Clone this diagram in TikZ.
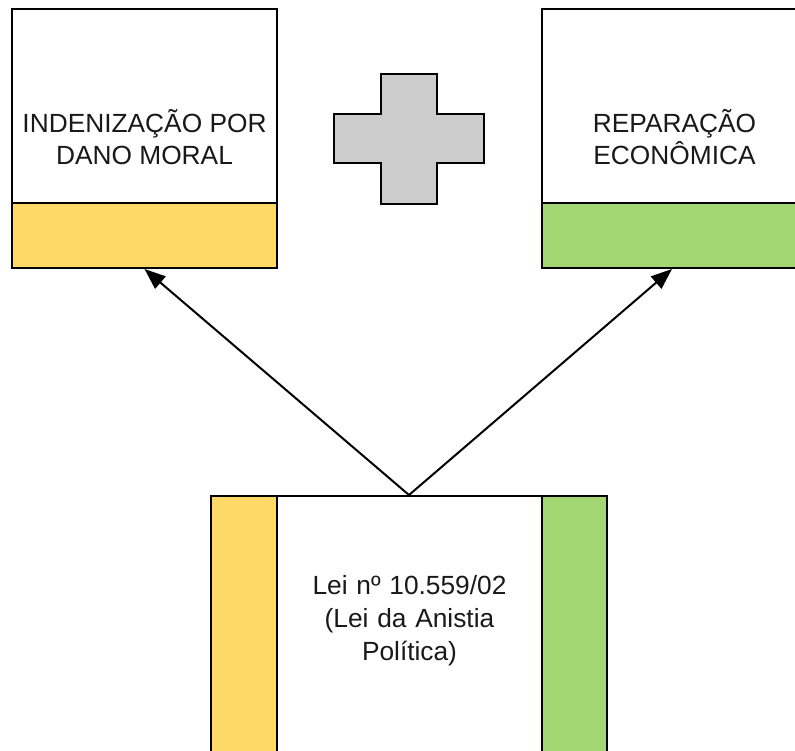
\documentclass[tikz,border=0pt]{standalone}
\usepackage{fontspec}
\setmainfont{Liberation Sans}
\usetikzlibrary{arrows.meta}
\definecolor{lawyellow}{HTML}{FFD966}
\definecolor{lawgreen}{HTML}{A3D774}
\definecolor{crossgray}{HTML}{CCCCCC}
\tikzset{
  outline/.style={draw=black, line width=2pt},
  panel/.style={outline, rectangle, inner sep=0pt},
  label text/.style={font=\fontsize{26.3}{32}\selectfont, align=center, text=black!90},
  link/.style={draw=black, line width=2pt, -{Triangle[length=21pt, width=16pt]}}
}
\begin{document}
\begin{tikzpicture}[x=1pt, y=-1pt]
  \useasboundingbox (0,0) rectangle (795,751);
  \clip (0,0) rectangle (795,751);
  \fill[white] (0,0) rectangle (795,751);

  % colour bands under the outlines
  \fill[lawyellow] (12,203) rectangle (277,268);
  \fill[lawgreen] (542,203) rectangle (807,268);
  \fill[lawyellow] (211,495) rectangle (277,780);
  \fill[lawgreen] (542,495) rectangle (607,780);

  % upper boxes
  \node[panel, minimum width=265pt, minimum height=259pt] (moral) at (144.5,138.5) {};
  \node[panel, minimum width=265pt, minimum height=259pt] (repar) at (674.5,138.5) {};
  \draw[outline] (12,203) -- (277,203);
  \draw[outline] (542,203) -- (807,203);
  \node[label text] (moraltxt) at (144.5,137) {INDENIZAÇÃO POR\\DANO MORAL};
  \node[label text] (repartxt) at (674.5,137) {REPARAÇÃO\\ECONÔMICA};

  % plus sign between the upper boxes
  \draw[outline, fill=crossgray, line join=miter]
    (381,74) -- (437,74) -- (437,114) -- (484,114) -- (484,163) -- (437,163)
    -- (437,204) -- (381,204) -- (381,163) -- (334,163) -- (334,114) -- (381,114) -- cycle;

  % lower box
  \node[panel, minimum width=396pt, minimum height=285pt, anchor=north] (lei) at (409,495) {};
  \draw[outline] (277,495) -- (277,780);
  \draw[outline] (542,495) -- (542,780);
  \node[label text, text width=260pt, font=\fontsize{26.3}{33}\selectfont] (leitxt) at (409.5,621)
    {Lei nº 10.559/02\\(Lei da Anistia\\Política)};

  % connectors
  \draw[link] (lei.north) -- (moral.south);
  \draw[link] (lei.north) -- ([xshift=-2.5pt]repar.south);
\end{tikzpicture}
\end{document}
